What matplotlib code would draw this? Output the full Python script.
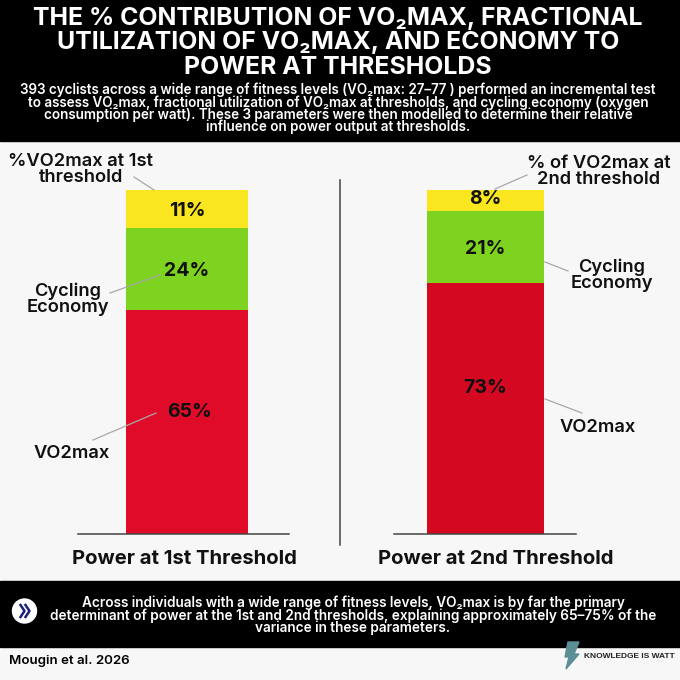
"""Stacked % contribution of VO2max, fractional utilization and economy."""

import matplotlib

matplotlib.use("Agg")
import matplotlib.pyplot as plt
from matplotlib.patches import Circle, Polygon, Rectangle

plt.rcParams["font.family"] = ["Inter", "DejaVu Sans"]

VO2MAX = [65, 73]
ECONOMY = [24, 21]
FRACTIONAL = [11, 8]
PANEL_TITLES = ["Power at 1st Threshold", "Power at 2nd Threshold"]

TITLE = [
    "THE % CONTRIBUTION OF VO₂MAX, FRACTIONAL",
    "UTILIZATION OF VO₂MAX, AND ECONOMY TO",
    "POWER AT THRESHOLDS",
]
INTRO = [
    "393 cyclists across a wide range of fitness levels (VO₂max: 27–77 ) performed an incremental test",
    "to assess VO₂max, fractional utilization of VO₂max at thresholds, and cycling economy (oxygen",
    "consumption per watt). These 3 parameters were then modelled to determine their relative",
    "influence on power output at thresholds.",
]
TAKEAWAY = [
    "Across individuals with a wide range of fitness levels, VO₂max is by far the primary",
    "determinant of power at the 1st and 2nd thresholds, explaining approximately 65–75% of the",
    "variance in these parameters.",
]

RED = ["#e00b28", "#d40820"]
GREEN, YELLOW = "#7ed321", "#fae61e"
BG = "#f7f7f7"
SZ = 680

# layout, in picture pixels
BAR_LEFT = [126, 427]
BAR_WIDTH = [122, 117]
BAR_TOP, BAR_BOTTOM = 190, 534
RED_LABEL_XY = [(190, 410), (485, 386)]
BASELINES = [(78, 289), (394, 576)]
TITLE_X = [184, 496]


def text_lines(ax, lines, x, y0, step, **kw):
    # placed one by one, the subscript glyphs would stretch a multi-line text
    for n, line in enumerate(lines):
        ax.text(x, y0 + n * step, line, ha="center", va="center", **kw)


def main() -> None:
    fig = plt.figure(figsize=(6.8, 6.8), dpi=100, facecolor=BG)

    # overlay in pixel coordinates (y down) for the banners and labels
    pg = fig.add_axes([0, 0, 1, 1], zorder=2)
    pg.set_xlim(0, SZ)
    pg.set_ylim(SZ, 0)
    pg.axis("off")
    pg.add_patch(Rectangle((0, 0), SZ, 141, color="black"))
    pg.add_patch(Rectangle((0, 581), SZ, 66, color="black"))
    pg.plot([340, 340], [180, 545], color="#444444", lw=1.1)

    text_lines(pg, TITLE, 338, 18, 24.5, color="white", fontsize=17.9, fontweight="bold")
    text_lines(pg, INTRO, 338, 90, 12.4, color="white", fontsize=9.7, fontweight="semibold")
    text_lines(pg, TAKEAWAY, 353, 603, 12.5, color="white", fontsize=9.8, fontweight="semibold")

    # round icon with double chevron
    pg.add_patch(Circle((24.5, 611), 12, color="white", zorder=3))
    for dx in (0, 5):
        pg.plot([20.5 + dx, 24.5 + dx, 20.5 + dx], [605, 611, 617], color="#1a1f7a", lw=1.8, zorder=4)

    pg.text(9, 661, "Mougin et al. 2026", color="black", ha="left", va="center",
            fontsize=9.6, fontweight="semibold")

    # bolt logo and wordmark
    pg.add_patch(Polygon([(568, 642), (579, 642), (574, 654), (579, 654),
                          (566, 669), (569, 657), (565, 657)], color="#5b8f96", zorder=4))
    pg.text(584, 657, "KNOWLEDGE IS WATT", color="#222222", ha="left", va="center",
            fontsize=6.0, fontweight="bold", family=["Liberation Sans", "DejaVu Sans"])

    # stacked bars, one axes per panel
    for i, title in enumerate(PANEL_TITLES):
        left, width = BAR_LEFT[i], BAR_WIDTH[i]
        ax = fig.add_axes([left / SZ, 1 - BAR_BOTTOM / SZ, width / SZ, (BAR_BOTTOM - BAR_TOP) / SZ], zorder=1)
        ax.set_xlim(-0.5, 0.5)
        ax.set_ylim(0, 100)
        ax.axis("off")
        ax.bar(0, VO2MAX[i], width=1, color=RED[i])
        ax.bar(0, ECONOMY[i], width=1, bottom=VO2MAX[i], color=GREEN)
        ax.bar(0, FRACTIONAL[i], width=1, bottom=VO2MAX[i] + ECONOMY[i], color=YELLOW)
        pct = dict(ha="center", va="center_baseline", fontsize=14, fontweight="bold", color="#111111")
        ax.text(0, VO2MAX[i] + ECONOMY[i] / 2, f"{ECONOMY[i]}%", **pct)
        ax.text(0, VO2MAX[i] + ECONOMY[i] + FRACTIONAL[i] / 2, f"{FRACTIONAL[i]}%", **pct)
        pg.text(*RED_LABEL_XY[i], f"{VO2MAX[i]}%", **pct)
        pg.plot(BASELINES[i], [534, 534], color="#444444", lw=1.1)
        pg.text(TITLE_X[i], 559, title, ha="center", va="center",
                fontsize=14.6, fontweight="bold", color="#111111")

    # callouts
    lab = dict(fontsize=13.2, fontweight="semibold", color="#111111")
    text_lines(pg, ["%VO2max at 1st", "threshold"], 81, 161, 17, **lab)
    text_lines(pg, ["Cycling", "Economy"], 68, 291, 17, **lab)
    text_lines(pg, ["VO2max"], 72, 453, 17, **lab)
    text_lines(pg, ["% of VO2max at", "2nd threshold"], 599, 163, 17, **lab)
    text_lines(pg, ["Cycling", "Economy"], 612, 267, 17, **lab)
    text_lines(pg, ["VO2max"], 598, 427, 17, **lab)

    leader = dict(color="#a8a8a8", lw=0.9, zorder=5)
    for x, y in [((134, 154), (177, 190)), ((110, 160), (293, 275)),
                 ((93, 156), (440, 413)), ((495, 527), (189, 175)),
                 ((545, 568), (262, 271)), ((545, 582), (399, 413))]:
        pg.plot(x, y, **leader)

    fig.savefig("out.png", dpi=100, facecolor=BG)
    plt.close(fig)


if __name__ == "__main__":
    main()
